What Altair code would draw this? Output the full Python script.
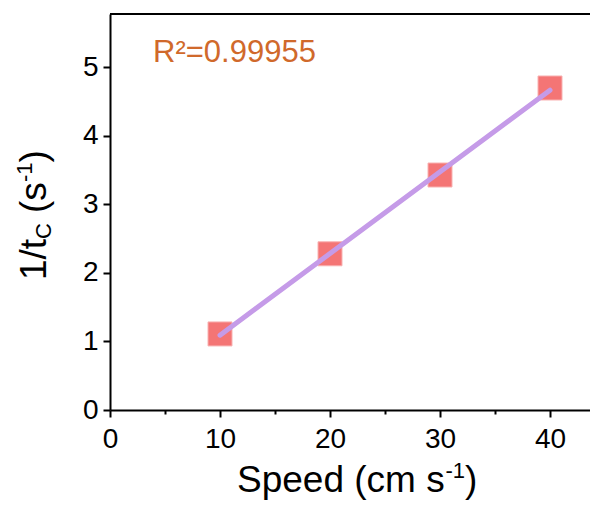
import altair as alt
import pandas as pd

# data
speed = [10, 20, 30, 40]
rate = [1.11, 2.28, 3.43, 4.70]
r2_label = "R²=0.99955"

x_ticks = [0, 5, 10, 15, 20, 25, 30, 35, 40]
y_ticks = [0, 0.5, 1, 1.5, 2, 2.5, 3, 3.5, 4, 4.5, 5, 5.5]

W, H = 480, 396
FONT = "Liberation Sans"

df = pd.DataFrame({"speed": speed, "rate": rate})

xscale = alt.Scale(domain=[0, W / 11.0], nice=False, zero=False)
yscale = alt.Scale(domain=[0, 5.78], nice=False, zero=False)

xaxis = alt.Axis(
    title=None, values=x_ticks, grid=False,
    labelExpr="datum.value % 10 === 0 ? format(datum.value, 'd') : ''",
    tickSize={"condition": {"test": "datum.value % 10 !== 0", "value": 4}, "value": 7},
    labelPadding=8, labelFlush=False,
)
yaxis = alt.Axis(
    title=None, values=y_ticks, grid=False,
    labelExpr="datum.value % 1 === 0 ? format(datum.value, 'd') : ''",
    tickSize={"condition": {"test": "datum.value % 1 !== 0", "value": 4}, "value": 7},
    labelPadding=5, labelFlush=False,
)

points = alt.Chart(df).mark_square(
    size=576, color="#F47575", stroke="#F8B2B2", strokeWidth=1, opacity=1
).encode(
    x=alt.X("speed:Q", scale=xscale, axis=xaxis),
    y=alt.Y("rate:Q", scale=yscale, axis=yaxis),
)

fit = alt.Chart(df).transform_regression("speed", "rate").mark_line(
    color="#C59BE8", strokeWidth=5, strokeCap="round"
).encode(x="speed:Q", y="rate:Q")

top_border = alt.Chart(pd.DataFrame({"a": [0]})).mark_rule(
    color="black", strokeWidth=2
).encode(x=alt.value(0), x2=alt.value(W), y=alt.value(0))


def txt(s, x, y, size, color="black", angle=0):
    return alt.Chart(pd.DataFrame({"t": [s]})).mark_text(
        font=FONT, fontSize=size, color=color, align="left",
        baseline="alphabetic", angle=angle
    ).encode(text="t:N", x=alt.value(x), y=alt.value(y))


# x title: Speed (cm s^-1)
xt = [
    txt("Speed (cm s", 127, 478, 37),
    txt("-1", 335.5, 464, 22),
    txt(")", 355, 478, 37),
]
# y title: 1/t_C (s^-1)
yt = [
    txt("1/t", -64, 266, 37, angle=270),
    txt("C", -59, 225, 22, angle=270),
    txt("(s", -64, 199, 37, angle=270),
    txt("-1", -78, 168, 22, angle=270),
    txt(")", -64, 148.5, 37, angle=270),
]
r2 = txt(r2_label, 43, 48, 31, color="#D0692B")

chart = alt.layer(points, fit, top_border, r2, *xt, *yt).properties(
    width=W, height=H,
    autosize=alt.AutoSizeParams(type="none"),
    padding={"left": 102, "top": 6, "right": 0, "bottom": 92},
).configure_view(stroke=None).configure_axis(
    domainColor="black", domainWidth=2, tickColor="black", tickWidth=2,
    labelFont=FONT, labelFontSize=28, labelColor="black",
)

chart.save("out.html", embed_options={"renderer": "svg", "actions": False})
